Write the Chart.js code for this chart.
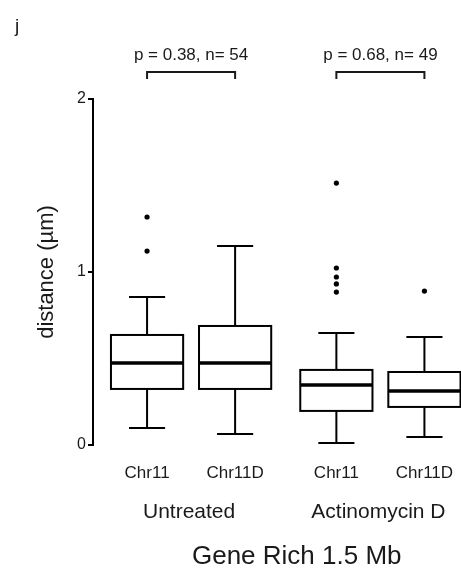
<!DOCTYPE html>
<html>
<head>
<meta charset="utf-8">
<script src="https://cdn.jsdelivr.net/npm/chart.js@4/dist/chart.umd.min.js"></script>
<style>
  html, body { margin: 0; padding: 0; background: #fff; }
</style>
</head>
<body>
<canvas id="chart" width="461" height="575"></canvas>
<script>
// Box plot data (distance in µm)
const categories = ['Chr11', 'Chr11D', 'Chr11', 'Chr11D'];
const groups = ['Untreated', 'Actinomycin D'];
const groupOf = [0, 0, 1, 1];
const whiskerLow = [0.098, 0.064, 0.012, 0.046];
const q1 = [0.324, 0.324, 0.197, 0.220];
const median = [0.474, 0.474, 0.347, 0.312];
const q3 = [0.636, 0.688, 0.434, 0.422];
const whiskerHigh = [0.855, 1.150, 0.647, 0.624];
const outliers = [[1.121, 1.318], [], [0.884, 0.931, 0.971, 1.023, 1.514], [0.890]];
const comparisons = ['p = 0.38, n= 54', 'p = 0.68, n= 49'];
const yTicks = [0, 1, 2];

const TEXT = '#1a1a1a';
const FONT = "'Liberation Sans', Arial, sans-serif";

// x position of each box: one unit apart, with a wider gap between groups
const GROUP_GAP = 2.15;
const xPos = categories.map((c, i) => groupOf[i] * GROUP_GAP + (i % 2));
const BOX_HALF = 0.41;

const outlierPoints = [];
outliers.forEach((list, i) => list.forEach(v => outlierPoints.push({ x: xPos[i], y: v })));

// draws boxes, whiskers, group labels, brackets and panel letter
const boxPlugin = {
  id: 'boxes',
  beforeDatasetsDraw(chart) {
    const ctx = chart.ctx;
    const xs = chart.scales.x;
    const ys = chart.scales.y;
    ctx.save();
    ctx.strokeStyle = '#000';
    categories.forEach((c, i) => {
      const cx = xs.getPixelForValue(xPos[i]);
      const half = xs.getPixelForValue(xPos[i] + BOX_HALF) - cx;
      const yLo = ys.getPixelForValue(whiskerLow[i]);
      const yQ1 = ys.getPixelForValue(q1[i]);
      const yMed = ys.getPixelForValue(median[i]);
      const yQ3 = ys.getPixelForValue(q3[i]);
      const yHi = ys.getPixelForValue(whiskerHigh[i]);
      ctx.lineWidth = 2;
      // whiskers
      ctx.beginPath();
      ctx.moveTo(cx, yQ3); ctx.lineTo(cx, yHi);
      ctx.moveTo(cx - half / 2, yHi); ctx.lineTo(cx + half / 2, yHi);
      ctx.moveTo(cx, yQ1); ctx.lineTo(cx, yLo);
      ctx.moveTo(cx - half / 2, yLo); ctx.lineTo(cx + half / 2, yLo);
      ctx.stroke();
      // box
      ctx.fillStyle = '#fff';
      ctx.fillRect(cx - half, yQ3, half * 2, yQ1 - yQ3);
      ctx.strokeRect(cx - half, yQ3, half * 2, yQ1 - yQ3);
      // median
      ctx.lineWidth = 3.5;
      ctx.beginPath();
      ctx.moveTo(cx - half, yMed); ctx.lineTo(cx + half, yMed);
      ctx.stroke();
    });
    ctx.restore();
  },
  afterDraw(chart) {
    const ctx = chart.ctx;
    const xs = chart.scales.x;
    ctx.save();
    ctx.fillStyle = TEXT;
    ctx.textAlign = 'center';
    ctx.textBaseline = 'middle';
    groups.forEach((g, gi) => {
      const idx = categories.map((c, i) => i).filter(i => groupOf[i] === gi);
      const x0 = xs.getPixelForValue(xPos[idx[0]]);
      const x1 = xs.getPixelForValue(xPos[idx[idx.length - 1]]);
      const mid = (x0 + x1) / 2;
      // group label under the category ticks
      ctx.font = '21px ' + FONT;
      ctx.fillText(g, mid - 2, 512);
      // comparison bracket above the plot
      ctx.font = '17px ' + FONT;
      ctx.fillText(comparisons[gi], mid, 55);
      ctx.strokeStyle = '#1a1a1a';
      ctx.lineWidth = 2;
      ctx.beginPath();
      ctx.moveTo(x0, 79); ctx.lineTo(x0, 72); ctx.lineTo(x1, 72); ctx.lineTo(x1, 79);
      ctx.stroke();
    });
    ctx.font = '26px ' + FONT;
    ctx.fillText('Gene Rich 1.5 Mb', xs.getPixelForValue((xPos[0] + xPos[xPos.length - 1]) / 2) + 11, 557);
    ctx.textAlign = 'left';
    ctx.font = '19px ' + FONT;
    ctx.fillText('j', 15, 27);
    ctx.restore();
  }
};

new Chart(document.getElementById('chart'), {
  type: 'scatter',
  data: {
    datasets: [{
      label: 'outliers',
      data: outlierPoints,
      backgroundColor: '#000',
      borderColor: '#000',
      pointRadius: 2.6,
      borderWidth: 0
    }]
  },
  options: {
    responsive: false,
    animation: false,
    devicePixelRatio: 1,
    layout: { padding: { top: 99, right: 0, bottom: 0, left: 0 } },
    plugins: {
      legend: { display: false },
      tooltip: { enabled: false },
      title: { display: false }
    },
    scales: {
      x: {
        type: 'linear',
        min: -0.614,
        max: 3.52,
        afterFit(scale) {
          scale.height = 130;
          scale.paddingLeft = 0;
          scale.paddingRight = 0;
        },
        afterBuildTicks(scale) { scale.ticks = xPos.map(v => ({ value: v })); },
        grid: { display: false, drawTicks: false },
        border: { display: false },
        ticks: {
          color: TEXT,
          font: { family: FONT, size: 17 },
          padding: 18,
          maxRotation: 0,
          autoSkip: false,
          callback: (v, i) => categories[i]
        }
      },
      y: {
        min: 0,
        max: 2,
        afterFit(scale) {
          scale.width = 93;
          scale.paddingTop = 0;
          scale.paddingBottom = 0;
        },
        afterBuildTicks(scale) { scale.ticks = yTicks.map(v => ({ value: v })); },
        grid: { drawOnChartArea: false, color: '#000', lineWidth: 2, tickLength: 5 },
        border: { display: true, color: '#000', width: 2 },
        ticks: {
          color: TEXT,
          font: { family: FONT, size: 16 },
          padding: 2
        },
        title: {
          display: true,
          text: 'distance (µm)',
          color: TEXT,
          font: { family: FONT, size: 22 },
          padding: { top: 34, bottom: 0 }
        }
      }
    }
  },
  plugins: [boxPlugin]
});
</script>
</body>
</html>
